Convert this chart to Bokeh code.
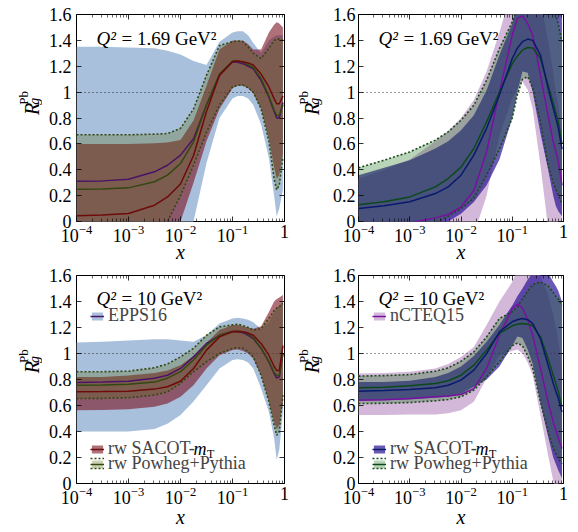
import math
from bokeh.plotting import figure
from bokeh.models import (ColumnDataSource, FixedTicker, LogAxis, LinearAxis, Label,
                          Legend, LegendItem, CustomJSTickFormatter, Range1d)
from bokeh.layouts import column, row
from bokeh.embed import file_html
from bokeh.resources import INLINE

# ---------------- data ----------------
x = [1e-4, 3.16e-4, 1e-3, 3.16e-3, 5.62e-3, 1e-2, 1.78e-2, 3.16e-2, 5.62e-2, 0.1,
     0.126, 0.158, 0.2, 0.251, 0.355, 0.501, 0.631, 0.708, 0.794, 0.933]

# Q^2 = 1.69 GeV^2, EPPS16 and reweighted
tl_epps_hi = [1.35, 1.35, 1.345, 1.34, 1.32, 1.29, 1.24, 1.21, 1.39, 1.46, 1.47, 1.47, 1.44, 1.38, 1.30, 1.40, 1.43, 1.44, 1.44, 1.44]
tl_epps_lo = [-0.3, -0.3, -0.3, -0.28, -0.2, -0.1, 0.0, 0.45, 0.80, 0.95, 0.97, 0.97, 0.95, 0.90, 0.75, 0.49, 0.20, 0.04, 0.10, 0.25]
tl_sacot_hi = [0.60, 0.60, 0.60, 0.605, 0.61, 0.63, 0.78, 1.05, 1.33, 1.40, 1.40, 1.40, 1.37, 1.33, 1.33, 1.46, 1.52, 1.54, 1.53, 1.50]
tl_sacot_lo = [-0.3, -0.3, -0.3, -0.25, -0.12, 0.0, 0.30, 0.62, 0.87, 1.03, 1.05, 1.05, 1.03, 0.99, 0.87, 0.64, 0.42, 0.33, 0.36, 0.52]
tl_powheg_hi = [0.67, 0.67, 0.67, 0.675, 0.68, 0.72, 0.87, 1.13, 1.36, 1.39, 1.395, 1.39, 1.35, 1.30, 1.26, 1.34, 1.40, 1.41, 1.41, 1.40]
tl_powheg_lo = [-0.35, -0.35, -0.3, -0.1, 0.0, 0.20, 0.435, 0.69, 0.90, 1.04, 1.055, 1.054, 1.035, 1.0, 0.87, 0.62, 0.33, 0.245, 0.28, 0.50]
tl_epps_c = [0.312, 0.314, 0.327, 0.384, 0.435, 0.513, 0.64, 0.90, 1.13, 1.234, 1.23, 1.22, 1.20, 1.18, 1.09, 0.96, 0.85, 0.80, 0.80, 0.92]
tl_powheg_c = [0.25, 0.252, 0.26, 0.307, 0.358, 0.448, 0.616, 0.90, 1.14, 1.24, 1.24, 1.23, 1.21, 1.19, 1.105, 0.97, 0.86, 0.82, 0.82, 0.90]
tl_sacot_c = [0.044, 0.05, 0.062, 0.126, 0.19, 0.29, 0.51, 0.85, 1.13, 1.234, 1.24, 1.234, 1.225, 1.21, 1.14, 1.04, 0.95, 0.91, 0.91, 0.97]

# Q^2 = 1.69 GeV^2, nCTEQ15 and reweighted
tr_ncteq_hi = [0.33, 0.40, 0.48, 0.62, 0.70, 0.80, 0.94, 1.16, 1.46, 1.8, 1.9, 1.95, 1.95, 1.9, 1.7, 1.4, 1.15, 1.0, 0.9, 0.7]
tr_ncteq_lo = [-0.5, -0.5, -0.45, -0.4, -0.35, -0.25, -0.1, 0.2, 0.667, 0.95, 1.03, 1.08, 1.02, 0.87, 0.435, -0.05, -0.3, -0.4, -0.5, -0.6]
tr_sacot_hi = [0.358, 0.415, 0.474, 0.564, 0.621, 0.706, 0.822, 1.015, 1.286, 1.53, 1.7, 1.85, 1.92, 1.95, 1.95, 1.9, 1.85, 1.8, 1.75, 1.65]
tr_sacot_lo = [-0.3, -0.3, -0.25, -0.05, 0.0, 0.06, 0.15, 0.28, 0.48, 0.80, 1.0, 1.16, 1.15, 1.0, 0.68, 0.40, 0.2, 0.12, 0.08, 0.04]
tr_powheg_hi = [0.415, 0.474, 0.538, 0.629, 0.693, 0.783, 0.899, 1.092, 1.337, 1.543, 1.65, 1.75, 1.82, 1.85, 1.82, 1.75, 1.68, 1.6, 1.52, 1.39]
tr_powheg_lo = [-0.3, -0.25, -0.12, -0.01, 0.04, 0.10, 0.18, 0.36, 0.56, 0.80, 0.98, 1.10, 1.12, 1.03, 0.77, 0.435, 0.30, 0.25, 0.20, 0.14]
tr_ncteq_c = [-0.1, -0.07, -0.01, 0.028, 0.054, 0.113, 0.24, 0.54, 1.0, 1.44, 1.57, 1.59, 1.53, 1.44, 1.13, 0.82, 0.616, 0.54, 0.46, 0.28]
tr_sacot_c = [0.10, 0.121, 0.152, 0.216, 0.268, 0.358, 0.513, 0.72, 0.977, 1.26, 1.34, 1.39, 1.41, 1.40, 1.286, 1.03, 0.874, 0.80, 0.72, 0.56]
tr_powheg_c = [0.13, 0.152, 0.19, 0.268, 0.332, 0.42, 0.564, 0.77, 1.0, 1.22, 1.28, 1.324, 1.345, 1.342, 1.26, 1.054, 0.912, 0.84, 0.77, 0.60]

# Q^2 = 10 GeV^2, EPPS16 and reweighted
bl_epps_hi = [1.085, 1.09, 1.10, 1.11, 1.11, 1.10, 1.09, 1.14, 1.23, 1.27, 1.275, 1.27, 1.26, 1.24, 1.19, 1.24, 1.32, 1.35, 1.37, 1.40]
bl_epps_lo = [0.40, 0.40, 0.40, 0.42, 0.46, 0.526, 0.63, 0.756, 0.885, 0.95, 0.955, 0.95, 0.93, 0.885, 0.73, 0.55, 0.35, 0.18, 0.26, 0.55]
bl_sacot_hi = [0.82, 0.82, 0.83, 0.85, 0.87, 0.91, 0.98, 1.08, 1.18, 1.22, 1.22, 1.21, 1.20, 1.19, 1.21, 1.32, 1.40, 1.42, 1.43, 1.45]
bl_sacot_lo = [0.564, 0.566, 0.572, 0.59, 0.615, 0.667, 0.756, 0.885, 0.987, 1.026, 1.03, 1.02, 1.0, 0.96, 0.83, 0.628, 0.474, 0.42, 0.45, 0.63]
bl_powheg_hi = [0.86, 0.86, 0.864, 0.89, 0.92, 0.974, 1.04, 1.14, 1.205, 1.22, 1.225, 1.215, 1.2, 1.18, 1.19, 1.27, 1.33, 1.35, 1.36, 1.385]
bl_powheg_lo = [0.654, 0.655, 0.66, 0.68, 0.705, 0.77, 0.86, 0.936, 1.0, 1.04, 1.045, 1.04, 1.015, 0.974, 0.833, 0.628, 0.449, 0.37, 0.40, 0.68]
bl_epps_c = [0.777, 0.78, 0.787, 0.81, 0.833, 0.885, 0.974, 1.077, 1.14, 1.17, 1.17, 1.16, 1.14, 1.115, 1.04, 0.936, 0.846, 0.81, 0.82, 1.0]
bl_powheg_c = [0.756, 0.758, 0.764, 0.78, 0.81, 0.86, 0.95, 1.064, 1.14, 1.17, 1.172, 1.167, 1.15, 1.12, 1.04, 0.94, 0.854, 0.83, 0.833, 1.0]
bl_sacot_c = [0.705, 0.707, 0.71, 0.726, 0.744, 0.787, 0.885, 1.026, 1.128, 1.167, 1.17, 1.167, 1.157, 1.14, 1.077, 0.987, 0.90, 0.87, 0.87, 1.06]

# Q^2 = 10 GeV^2, nCTEQ15 and reweighted
br_ncteq_hi = [0.846, 0.85, 0.86, 0.885, 0.92, 0.974, 1.05, 1.22, 1.40, 1.55, 1.65, 1.75, 1.78, 1.75, 1.6, 1.45, 1.3, 1.2, 1.1, 0.9]
br_ncteq_lo = [0.526, 0.526, 0.53, 0.53, 0.54, 0.564, 0.628, 0.81, 0.987, 1.02, 1.03, 1.0, 0.93, 0.83, 0.526, 0.218, 0.02, -0.04, -0.1, -0.2]
br_sacot_hi = [0.78, 0.78, 0.79, 0.82, 0.85, 0.90, 0.98, 1.09, 1.22, 1.37, 1.44, 1.5, 1.57, 1.62, 1.65, 1.62, 1.55, 1.52, 1.48, 1.40]
br_sacot_lo = [0.64, 0.64, 0.646, 0.66, 0.667, 0.69, 0.744, 0.80, 0.90, 1.06, 1.13, 1.12, 1.03, 0.92, 0.62, 0.36, 0.2, 0.15, 0.1, 0.04]
br_powheg_hi = [0.826, 0.83, 0.838, 0.864, 0.89, 0.94, 1.013, 1.128, 1.27, 1.32, 1.36, 1.42, 1.48, 1.53, 1.55, 1.52, 1.47, 1.44, 1.42, 1.37]
br_powheg_lo = [0.615, 0.617, 0.623, 0.636, 0.646, 0.667, 0.718, 0.82, 0.936, 1.06, 1.08, 1.06, 0.98, 0.885, 0.628, 0.397, 0.27, 0.23, 0.19, 0.15]
br_ncteq_c = [0.64, 0.645, 0.654, 0.667, 0.674, 0.685, 0.73, 0.885, 1.14, 1.346, 1.38, 1.35, 1.26, 1.14, 0.885, 0.628, 0.474, 0.41, 0.346, 0.27]
br_sacot_c = [0.71, 0.715, 0.723, 0.736, 0.756, 0.795, 0.872, 1.0, 1.167, 1.244, 1.26, 1.27, 1.26, 1.23, 1.115, 0.91, 0.77, 0.71, 0.654, 0.55]
br_powheg_c = [0.736, 0.74, 0.751, 0.77, 0.79, 0.833, 0.91, 1.026, 1.154, 1.213, 1.225, 1.23, 1.225, 1.213, 1.128, 0.96, 0.833, 0.77, 0.705, 0.59]

x_major_ticks = [1e-4, 1e-3, 1e-2, 1e-1, 1.0]
x_minor_ticks = [m * 10.0 ** e for e in (-4, -3, -2, -1) for m in range(2, 10)]
y_ticks = [0.0, 0.2, 0.4, 0.6, 0.8, 1.0, 1.2, 1.4, 1.6]

SERIF = "Liberation Serif"

LEFT = dict(base_fill="#a9c0dd", base_line="#4a1466",
            rw1_fill="#7a1020", rw1_alpha=0.6, rw1_line="#6e0a0a",
            rw2_fill="#5a6a10", rw2_alpha=0.3, rw2_line="#33480f", rw2_dot="#33480f")
RIGHT = dict(base_fill="#d4b8da", base_line="#7a10a0",
             rw1_fill="#2a1393", rw1_alpha=0.7, rw1_line="#0a1a6a",
             rw2_fill="#167016", rw2_alpha=0.3, rw2_line="#0a4a1a", rw2_dot="#1a4a1a")


def style_axis(ax, show_labels):
    ax.axis_line_color = None
    ax.major_tick_in = 5
    ax.major_tick_out = 0
    ax.minor_tick_in = 3
    ax.minor_tick_out = 0
    ax.major_tick_line_color = "black"
    ax.minor_tick_line_color = "black"
    ax.major_tick_line_width = 0.8
    ax.minor_tick_line_width = 0.6
    ax.major_label_text_font = SERIF
    ax.major_label_text_color = "black"
    if show_labels:
        ax.major_label_text_font_size = "18px"
    else:
        ax.major_label_text_font_size = "0px"
        ax.major_label_standoff = 0
        ax.formatter = CustomJSTickFormatter(code="return '';")


def lbl(p, xs, ys, text, size, style="normal", angle=0.0, align="left", baseline="alphabetic", units="screen"):
    p.add_layout(Label(x=xs, y=ys, x_units=units, y_units=units, text=text,
                       text_font=SERIF, text_font_size=size, text_font_style=style,
                       text_color="black", angle=angle, text_align=align,
                       text_baseline=baseline))


def text_canvas(w, h):
    c = figure(width=w, height=h, x_range=Range1d(0, w), y_range=Range1d(0, h),
               toolbar_location=None, output_backend="svg", min_border=0, title=None,
               x_axis_location=None, y_axis_location=None)
    c.outline_line_color = None
    c.xgrid.visible = False
    c.ygrid.visible = False
    c.background_fill_color = "white"
    c.border_fill_color = "white"
    return c


def ylabel_strip(w, x_r, y_r):
    c = text_canvas(w, 266)
    lbl(c, x_r, y_r, "R", "20px", "italic", angle=math.pi / 2, units="data")
    lbl(c, x_r + 2.5, y_r + 13, "g", "14px", "italic", angle=math.pi / 2, units="data")
    lbl(c, x_r - 8, y_r + 13, "Pb", "13px", "normal", angle=math.pi / 2, units="data")
    return c


def make_panel(q2, base, rw1, rw2, st, width, borders, base_name=None, rw_legend=False):
    lb, rb, tb, bb = borders
    p = figure(width=width, height=266, x_axis_type="log",
               x_range=Range1d(1e-4, 1.0), y_range=Range1d(0, 1.6),
               output_backend="svg", toolbar_location=None, title=None,
               min_border_left=lb, min_border_right=rb,
               min_border_top=tb, min_border_bottom=bb)
    p.xgrid.visible = False
    p.ygrid.visible = False
    p.outline_line_color = "black"
    p.outline_line_width = 1
    p.background_fill_color = "white"
    p.border_fill_color = "white"

    src = ColumnDataSource(dict(x=x, b_lo=base[0], b_hi=base[1], b_c=base[2],
                                r1_lo=rw1[0], r1_hi=rw1[1], r1_c=rw1[2],
                                r2_lo=rw2[0], r2_hi=rw2[1], r2_c=rw2[2]))

    b_band = p.varea(x="x", y1="b_lo", y2="b_hi", source=src, fill_color=st["base_fill"], fill_alpha=1.0)
    p.hspan(y=[1.0], line_color="black", line_dash="1 3", line_width=0.8)
    r1_band = p.varea(x="x", y1="r1_lo", y2="r1_hi", source=src, fill_color=st["rw1_fill"], fill_alpha=st["rw1_alpha"])
    r2_band = p.varea(x="x", y1="r2_lo", y2="r2_hi", source=src, fill_color=st["rw2_fill"], fill_alpha=st["rw2_alpha"])
    dot_hi = p.line(x="x", y="r2_hi", source=src, line_color=st["rw2_dot"], line_width=1.6, line_dash="2 2")
    p.line(x="x", y="r2_lo", source=src, line_color=st["rw2_dot"], line_width=1.6, line_dash="2 2")
    b_line = p.line(x="x", y="b_c", source=src, line_color=st["base_line"], line_width=1.5)
    r2_line = p.line(x="x", y="r2_c", source=src, line_color=st["rw2_line"], line_width=1.5)
    r1_line = p.line(x="x", y="r1_c", source=src, line_color=st["rw1_line"], line_width=1.5)

    xa = p.xaxis[0]
    xa.ticker = FixedTicker(ticks=x_major_ticks, minor_ticks=x_minor_ticks)
    style_axis(xa, True)
    xa.major_label_standoff = 3
    xa.major_label_overrides = {1.0: "1"}
    xa.axis_label = "x"
    xa.axis_label_text_font = SERIF
    xa.axis_label_text_font_style = "italic"
    xa.axis_label_text_font_size = "20px"
    xa.axis_label_text_color = "black"
    xa.axis_label_standoff = -4 if tb == 14 else -1
    ya = p.yaxis[0]
    ya.ticker = FixedTicker(ticks=y_ticks)
    style_axis(ya, True)
    ya.major_label_standoff = 5 if lb > 30 else 3
    ya.formatter = CustomJSTickFormatter(code="return String(Math.round(tick*10)/10);")

    top = LogAxis(ticker=FixedTicker(ticks=x_major_ticks, minor_ticks=x_minor_ticks))
    style_axis(top, False)
    p.add_layout(top, "above")
    right = LinearAxis(ticker=FixedTicker(ticks=y_ticks))
    style_axis(right, False)
    p.add_layout(right, "right")

    qy = 183 if tb == 14 else 185
    lbl(p, 20, qy, "Q²", "19px", "italic")
    lbl(p, 45, qy, "= " + q2 + " GeV²", "19px")

    def legend(items_renderers, label, yc, off):
        lg = Legend(items=[LegendItem(label=label, renderers=items_renderers)],
                    location=(14, yc - off), padding=0, margin=0, spacing=0,
                    glyph_width=14, glyph_height=10, label_standoff=4, label_height=10,
                    label_text_font=SERIF, label_text_font_size="18px",
                    label_text_baseline="middle",
                    background_fill_alpha=0.0, border_line_color=None)
        p.add_layout(lg)

    if base_name:
        legend([b_band, b_line], base_name, 168, 11)
    if rw_legend:
        legend([r1_band, r1_line], "rw SACOT-", 35, 11)
        legend([r2_band, r2_line], "rw Powheg+Pythia", 20, 11)
        legend([dot_hi], " ", 25, 5)
        legend([dot_hi], " ", 15, 5)
        lbl(p, 117, 35, "m", "18px", "italic", baseline="middle")
        lbl(p, 130.5, 30, "T", "12px", baseline="middle")
    return p


p1 = make_panel("1.69", (tl_epps_lo, tl_epps_hi, tl_epps_c), (tl_sacot_lo, tl_sacot_hi, tl_sacot_c),
                (tl_powheg_lo, tl_powheg_hi, tl_powheg_c), LEFT, 247, (34, 5, 14, 45))
p2 = make_panel("1.69", (tr_ncteq_lo, tr_ncteq_hi, tr_ncteq_c), (tr_sacot_lo, tr_sacot_hi, tr_sacot_c),
                (tr_powheg_lo, tr_powheg_hi, tr_powheg_c), RIGHT, 249, (26, 15, 14, 45))
p3 = make_panel("10", (bl_epps_lo, bl_epps_hi, bl_epps_c), (bl_sacot_lo, bl_sacot_hi, bl_sacot_c),
                (bl_powheg_lo, bl_powheg_hi, bl_powheg_c), LEFT, 247, (34, 5, 9, 49),
                base_name="EPPS16", rw_legend=True)
p4 = make_panel("10", (br_ncteq_lo, br_ncteq_hi, br_ncteq_c), (br_sacot_lo, br_sacot_hi, br_sacot_c),
                (br_powheg_lo, br_powheg_hi, br_powheg_c), RIGHT, 249, (26, 15, 9, 49),
                base_name="nCTEQ15", rw_legend=True)

top_row = row(ylabel_strip(42, 31, 137), p1, ylabel_strip(40, 22, 137), p2)
bottom_row = row(ylabel_strip(42, 31, 141), p3, ylabel_strip(40, 22, 141), p4)

layout = column(top_row, bottom_row)
open("out.html", "w").write(file_html(layout, INLINE))
